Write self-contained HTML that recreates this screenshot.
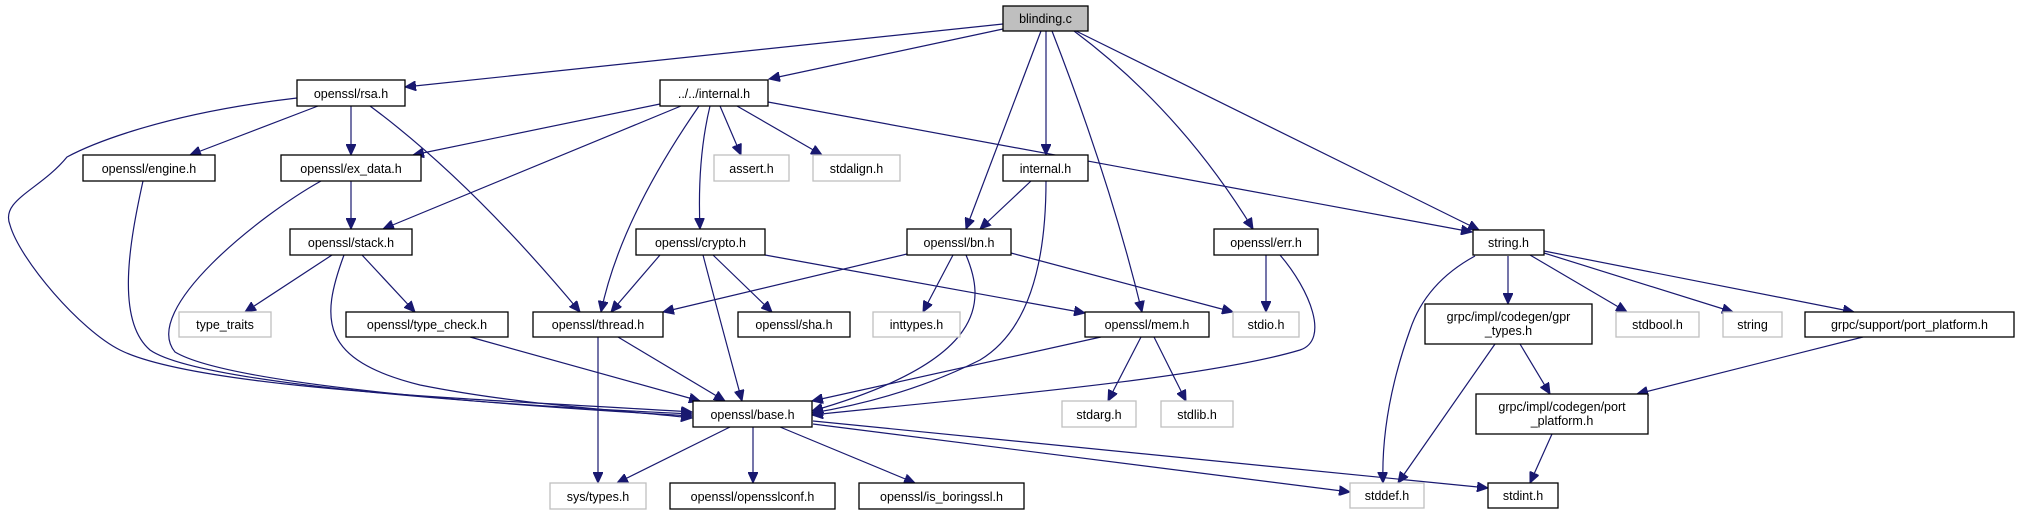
<!DOCTYPE html>
<html><head><meta charset="utf-8"><style>
html,body{margin:0;padding:0;background:#fff;}
svg{display:block;}
text{font-family:"Liberation Sans",sans-serif;font-size:12.5px;fill:#000;text-anchor:middle;}
.n{fill:#fff;stroke:#000;stroke-width:1.3;}
.g{fill:#fff;stroke:#bfbfbf;stroke-width:1.3;}
.e{fill:none;stroke:#191970;stroke-width:1.2;}
</style></head><body>
<svg width="2019" height="515" viewBox="0 0 2019 515" xmlns="http://www.w3.org/2000/svg">
<defs><marker id="a" markerUnits="userSpaceOnUse" markerWidth="12" markerHeight="10" refX="11" refY="5" orient="auto"><path d="M0,0 L11,5 L0,10 Z" fill="#191970" stroke="#191970"/></marker></defs>
<g marker-end="url(#a)">
<path class="e" d="M1003,24 L405,87"/>
<path class="e" d="M1003,29 L769,79"/>
<path class="e" d="M1041,31 L966,229"/>
<path class="e" d="M1046,31 L1046,155"/>
<path class="e" d="M1052,31 Q1110,180 1142,312"/>
<path class="e" d="M1074,31 Q1180,110 1253,229"/>
<path class="e" d="M1076,31 L1479,230"/>
<path class="e" d="M660,104 L413,155"/>
<path class="e" d="M681,106 L383,229"/>
<path class="e" d="M699,106 Q620,220 601,312"/>
<path class="e" d="M710,106 Q697,160 700,229"/>
<path class="e" d="M720,106 L741,155"/>
<path class="e" d="M737,106 L822,155"/>
<path class="e" d="M768,102 L1472,232"/>
<path class="e" d="M297,98 C150,115 80,150 67,157 C40,190 0,200 10,225 C20,260 80,330 120,350 C200,390 500,400 692,412"/>
<path class="e" d="M318,106 L190,155"/>
<path class="e" d="M351,106 L351,155"/>
<path class="e" d="M370,106 Q470,180 580,312"/>
<path class="e" d="M143,181 C130,240 115,320 150,350 C200,385 500,405 692,414"/>
<path class="e" d="M321,181 C260,215 140,310 175,352 C230,385 500,405 692,416"/>
<path class="e" d="M351,181 L351,229"/>
<path class="e" d="M332,255 L245,312"/>
<path class="e" d="M362,255 L415,312"/>
<path class="e" d="M344,255 C320,320 320,360 420,385 C520,405 620,410 692,418"/>
<path class="e" d="M470,337 L700,401"/>
<path class="e" d="M618,337 L725,401"/>
<path class="e" d="M598,337 L598,483"/>
<path class="e" d="M660,255 L611,312"/>
<path class="e" d="M703,255 Q720,320 742,401"/>
<path class="e" d="M713,255 L772,312"/>
<path class="e" d="M765,255 L1085,313"/>
<path class="e" d="M907,254 L663,312"/>
<path class="e" d="M953,255 L923,312"/>
<path class="e" d="M966,255 C985,300 990,360 812,411"/>
<path class="e" d="M1011,253 L1233,312"/>
<path class="e" d="M1031,181 L980,229"/>
<path class="e" d="M1046,181 C1046,260 1030,330 980,360 C920,390 860,405 812,413"/>
<path class="e" d="M1101,337 L812,401"/>
<path class="e" d="M1141,337 L1108,401"/>
<path class="e" d="M1154,337 L1186,401"/>
<path class="e" d="M1266,255 L1266,312"/>
<path class="e" d="M1280,255 C1310,290 1330,340 1300,350 C1200,380 950,400 812,415"/>
<path class="e" d="M730,427 L617,483"/>
<path class="e" d="M753,427 L753,483"/>
<path class="e" d="M780,427 L915,483"/>
<path class="e" d="M813,421 L1488,488"/>
<path class="e" d="M813,424 L1350,492"/>
<path class="e" d="M1475,256 C1440,275 1420,300 1410,330 C1385,400 1382,450 1383,483"/>
<path class="e" d="M1508,256 L1508,304"/>
<path class="e" d="M1530,255 L1627,312"/>
<path class="e" d="M1544,253 L1733,312"/>
<path class="e" d="M1544,251 L1854,312"/>
<path class="e" d="M1495,344 L1398,483"/>
<path class="e" d="M1520,344 L1550,394"/>
<path class="e" d="M1863,337 L1637,394"/>
<path class="e" d="M1552,434 L1530,483"/>
</g>
<rect x="1003" y="6" width="85" height="25" fill="#bfbfbf" stroke="#000" stroke-width="1.3"/><text x="1045.5" y="23">blinding.c</text>
<rect class="n" x="297" y="80" width="108" height="26"/><text x="351" y="98">openssl/rsa.h</text>
<rect class="n" x="660" y="80" width="108" height="26"/><text x="714" y="98">../../internal.h</text>
<rect class="n" x="83" y="155" width="132" height="26"/><text x="149" y="173">openssl/engine.h</text>
<rect class="n" x="281" y="155" width="140" height="26"/><text x="351" y="173">openssl/ex_data.h</text>
<rect class="g" x="714" y="155" width="75" height="26"/><text x="751.5" y="173">assert.h</text>
<rect class="g" x="813" y="155" width="87" height="26"/><text x="856.5" y="173">stdalign.h</text>
<rect class="n" x="1003" y="155" width="85" height="26"/><text x="1045.5" y="173">internal.h</text>
<rect class="n" x="290" y="229" width="122" height="26"/><text x="351" y="247">openssl/stack.h</text>
<rect class="n" x="636" y="229" width="129" height="26"/><text x="700.5" y="247">openssl/crypto.h</text>
<rect class="n" x="907" y="229" width="104" height="26"/><text x="959" y="247">openssl/bn.h</text>
<rect class="n" x="1214" y="229" width="104" height="26"/><text x="1266" y="247">openssl/err.h</text>
<rect class="n" x="1473" y="230" width="71" height="25"/><text x="1508.5" y="247">string.h</text>
<rect class="g" x="179" y="312" width="92" height="25"/><text x="225" y="329">type_traits</text>
<rect class="n" x="346" y="312" width="162" height="25"/><text x="427" y="329">openssl/type_check.h</text>
<rect class="n" x="533" y="312" width="130" height="25"/><text x="598" y="329">openssl/thread.h</text>
<rect class="n" x="738" y="312" width="112" height="25"/><text x="794" y="329">openssl/sha.h</text>
<rect class="g" x="873" y="312" width="87" height="25"/><text x="916.5" y="329">inttypes.h</text>
<rect class="n" x="1085" y="312" width="124" height="25"/><text x="1147" y="329">openssl/mem.h</text>
<rect class="g" x="1233" y="312" width="66" height="25"/><text x="1266" y="329">stdio.h</text>
<rect class="n" x="1425" y="304" width="167" height="40"/><text x="1508.5" y="321">grpc/impl/codegen/gpr</text><text x="1508.5" y="335">_types.h</text>
<rect class="g" x="1616" y="312" width="83" height="25"/><text x="1657.5" y="329">stdbool.h</text>
<rect class="g" x="1723" y="312" width="59" height="25"/><text x="1752.5" y="329">string</text>
<rect class="n" x="1805" y="312" width="209" height="25"/><text x="1909.5" y="329">grpc/support/port_platform.h</text>
<rect class="n" x="693" y="401" width="119" height="26"/><text x="752.5" y="419">openssl/base.h</text>
<rect class="g" x="1062" y="401" width="74" height="26"/><text x="1099" y="419">stdarg.h</text>
<rect class="g" x="1161" y="401" width="72" height="26"/><text x="1197" y="419">stdlib.h</text>
<rect class="n" x="1476" y="394" width="172" height="40"/><text x="1562" y="411">grpc/impl/codegen/port</text><text x="1562" y="425">_platform.h</text>
<rect class="g" x="550" y="483" width="96" height="26"/><text x="598" y="501">sys/types.h</text>
<rect class="n" x="670" y="483" width="165" height="26"/><text x="752.5" y="501">openssl/opensslconf.h</text>
<rect class="n" x="859" y="483" width="165" height="26"/><text x="941.5" y="501">openssl/is_boringssl.h</text>
<rect class="g" x="1350" y="483" width="74" height="25"/><text x="1387" y="500">stddef.h</text>
<rect class="n" x="1488" y="483" width="70" height="25"/><text x="1523" y="500">stdint.h</text>
</svg>
</body></html>
